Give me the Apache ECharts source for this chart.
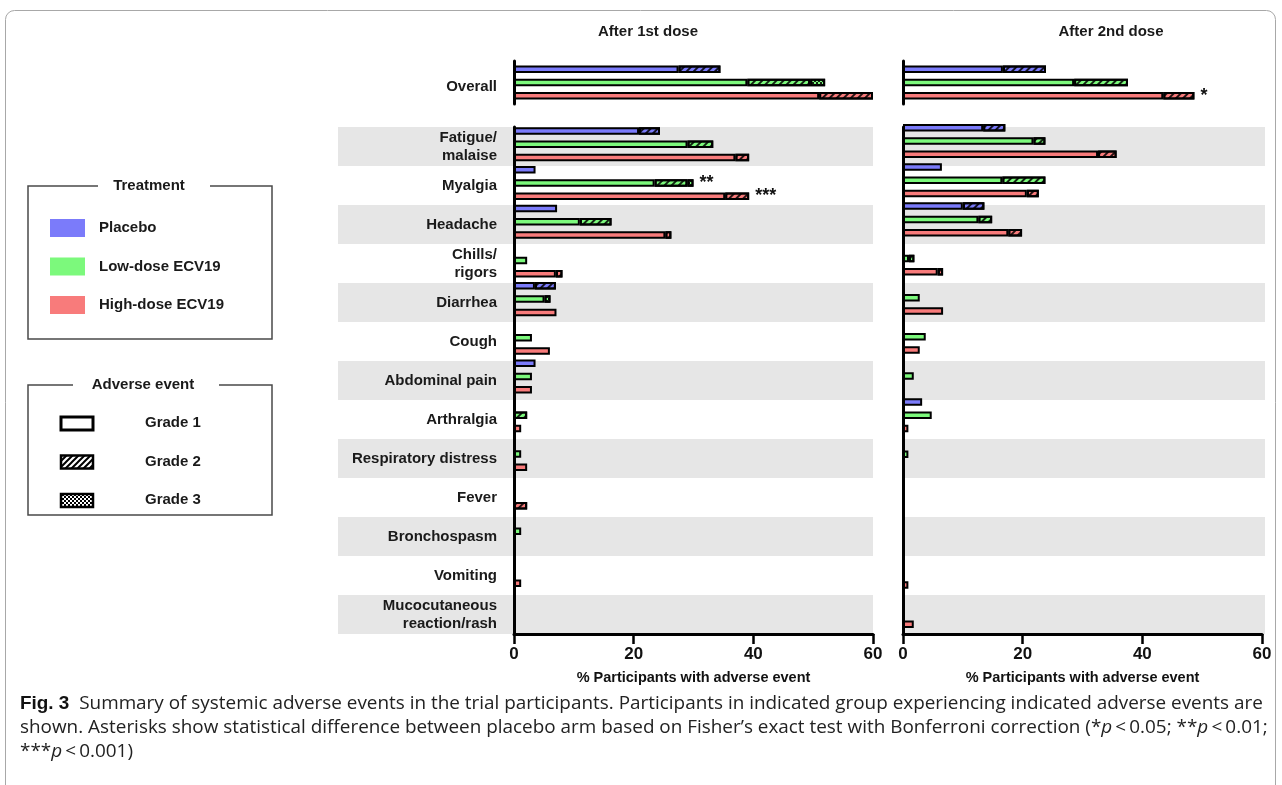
<!DOCTYPE html>
<html>
<head>
<meta charset="utf-8">
<script src="https://cdn.jsdelivr.net/npm/echarts@6/dist/echarts.min.js"></script>
<style>
  html, body { margin: 0; padding: 0; background: #fff; }
  #chart { width: 1282px; height: 785px; }
</style>
</head>
<body>
<div id="chart"></div>
<script>
// ---- Data: % participants with each systemic adverse event ----
const events = ['Fatigue/\nmalaise', 'Myalgia', 'Headache', 'Chills/\nrigors', 'Diarrhea', 'Cough',
  'Abdominal pain', 'Arthralgia', 'Respiratory distress', 'Fever', 'Bronchospasm', 'Vomiting',
  'Mucocutaneous\nreaction/rash'];
const overallCategory = ['Overall'];
const panelTitles = ['After 1st dose', 'After 2nd dose'];
const treatments = ['Placebo', 'Low-dose ECV19', 'High-dose ECV19'];
const grades = ['Grade 1', 'Grade 2', 'Grade 3'];
const xTickValues = [0, 20, 40, 60];

// Overall, per arm: [grade 1, grade 2, grade 3]
const d1OverallPlacebo = [27.5, 7.0, 0];
const d1OverallLow = [39.0, 10.5, 2.5];
const d1OverallHigh = [51.0, 9.0, 0];
const d2OverallPlacebo = [16.7, 7.2, 0];
const d2OverallLow = [28.6, 9.0, 0];
const d2OverallHigh = [43.5, 5.2, 0];
const d2OverallStars = ['', '', '*'];

// After 1st dose, per event
const d1PlaceboG1 = [20.9, 3.6, 7.2, 0, 3.5, 0, 3.6, 0, 0, 0, 0, 0, 0];
const d1PlaceboG2 = [3.5, 0, 0, 0, 3.5, 0, 0, 0, 0, 0, 0, 0, 0];
const d1PlaceboG3 = [0, 0, 0, 0, 0, 0, 0, 0, 0, 0, 0, 0, 0];
const d1LowG1 = [29.0, 23.5, 11.0, 2.2, 5.1, 3.0, 3.0, 0, 1.2, 0, 1.2, 0, 0];
const d1LowG2 = [4.3, 5.5, 5.3, 0, 0, 0, 0, 2.2, 0, 0, 0, 0, 0];
const d1LowG3 = [0, 1.0, 0, 0, 1.0, 0, 0, 0, 0, 0, 0, 0, 0];
const d1HighG1 = [37.0, 35.3, 25.3, 7.0, 7.1, 6.0, 3.0, 1.2, 2.2, 0, 0, 1.2, 0];
const d1HighG2 = [2.3, 4.0, 1.0, 1.1, 0, 0, 0, 0, 0, 2.2, 0, 0, 0];
const d1HighG3 = [0, 0, 0, 0, 0, 0, 0, 0, 0, 0, 0, 0, 0];
const d1LowStars = ['', '**', '', '', '', '', '', '', '', '', '', '', ''];
const d1HighStars = ['', '***', '', '', '', '', '', '', '', '', '', '', ''];

// After 2nd dose, per event
const d2PlaceboG1 = [13.4, 6.5, 10.0, 0, 0, 0, 0, 3.2, 0, 0, 0, 0, 0];
const d2PlaceboG2 = [3.7, 0, 3.6, 0, 0, 0, 0, 0, 0, 0, 0, 0, 0];
const d2PlaceboG3 = [0, 0, 0, 0, 0, 0, 0, 0, 0, 0, 0, 0, 0];
const d2LowG1 = [21.8, 16.6, 12.6, 1.0, 2.8, 3.8, 1.8, 4.8, 0.9, 0, 0, 0, 0];
const d2LowG2 = [2.0, 7.2, 2.3, 0.9, 0, 0, 0, 0, 0, 0, 0, 0, 0];
const d2LowG3 = [0, 0, 0, 0, 0, 0, 0, 0, 0, 0, 0, 0, 0];
const d2HighG1 = [32.6, 20.7, 17.6, 5.8, 6.7, 2.8, 0, 0.9, 0, 0, 0, 0.9, 1.8];
const d2HighG2 = [3.1, 2.0, 2.3, 0.9, 0, 0, 0, 0, 0, 0, 0, 0, 0];
const d2HighG3 = [0, 0, 0, 0, 0, 0, 0, 0, 0, 0, 0, 0, 0];

// ---- Styling ----
const FONT = 'Liberation Sans, Arial, sans-serif';
const CAPTION_FONT = 'Open Sans, Liberation Sans, sans-serif';
const armColors = ['#7b7bfa', '#7cf97c', '#f87b7b'];
const hatchDecal = {
  symbol: 'rect', symbolSize: 1, color: 'rgba(0,0,0,0.85)',
  dashArrayX: [1, 0], dashArrayY: [2, 3], rotation: -Math.PI / 4
};
const checkDecal = {
  symbol: 'rect', symbolSize: 1, color: 'rgba(0,0,0,0.85)',
  dashArrayX: [[2, 2], [0, 2, 2, 0]], dashArrayY: [2, 0]
};
const gradeDecals = [null, hatchDecal, checkDecal];

const chart = echarts.init(document.getElementById('chart'), null, { renderer: 'canvas' });

// One stacked bar per arm: grade 1, 2, 3 segments in sequence
function armSeries(axisIndex, stackKey, color, gradeArrays, stars) {
  return gradeArrays.map((vals, g) => {
    const itemStyle = { color: color, borderColor: '#000', borderWidth: 2 };
    if (gradeDecals[g]) itemStyle.decal = gradeDecals[g];
    return {
      type: 'bar',
      name: grades[g],
      xAxisIndex: axisIndex, yAxisIndex: axisIndex,
      stack: stackKey,
      barWidth: 7.5, barGap: '77%',
      silent: true,
      itemStyle: itemStyle,
      label: { show: false, position: 'right', distance: 6, fontSize: 18, fontWeight: 'bold',
        fontFamily: FONT, color: '#111' },
      data: vals.map((v, i) => {
        if (!v) return '-';
        const isLast = gradeArrays.slice(g + 1).every(a => !a[i]);
        const star = stars ? stars[i] : '';
        if (isLast && star) return { value: v, label: { show: true, formatter: star } };
        return v;
      })
    };
  });
}
function overallArm(axisIndex, key, color, triple, star) {
  return armSeries(axisIndex, key, color, triple.map(v => [v]), star ? [star] : null);
}

const gridBase = { outerBoundsMode: 'none', containLabel: false, show: false };
const grids = [
  { left: 338, width: 535, top: 127, height: 507 },   // 0 shading, dose 1
  { left: 514, width: 359, top: 127, height: 507 },   // 1 axes, dose 1
  { left: 514, width: 359, top: 125, height: 503 },   // 2 bars, dose 1
  { left: 514, width: 359, top: 61, height: 43 },     // 3 overall, dose 1
  { left: 903, width: 362, top: 127, height: 507 },   // 4 shading, dose 2
  { left: 903, width: 359, top: 127, height: 507 },   // 5 axes, dose 2
  { left: 903, width: 359, top: 121.5, height: 509 }, // 6 bars, dose 2
  { left: 903, width: 359, top: 61, height: 43 }      // 7 overall, dose 2
].map(g => Object.assign({}, gridBase, g));

const xMin = xTickValues[0], xMax = xTickValues[xTickValues.length - 1];
const xStep = xTickValues[1] - xTickValues[0];
function hiddenX(i) {
  return { type: 'value', gridIndex: i, min: xMin, max: xMax, show: false };
}
function shownX(i) {
  return {
    type: 'value', gridIndex: i, min: xMin, max: xMax, interval: xStep,
    axisLine: { show: true, lineStyle: { color: '#000', width: 3 } },
    axisTick: { show: true, length: 10, lineStyle: { color: '#000', width: 2.5 } },
    axisLabel: { fontSize: 17, fontWeight: 'bold', color: '#111', margin: 12, fontFamily: FONT },
    splitLine: { show: false },
    name: '% Participants with adverse event', nameLocation: 'middle', nameGap: 36,
    nameTextStyle: { fontSize: 14.5, fontWeight: 'bold', color: '#111', fontFamily: FONT }
  };
}
const catLabel = { fontSize: 15, fontWeight: 'bold', color: '#1a1a1a', margin: 17, lineHeight: 18,
  fontFamily: FONT };
function shadeY(i) {
  return { type: 'category', gridIndex: i, data: events, inverse: true,
    axisLine: { show: false }, axisTick: { show: false }, axisLabel: { show: false },
    splitArea: { show: true, areaStyle: { color: ['#e6e6e6', 'rgba(255,255,255,0)'] } } };
}
function axisY(i, labels) {
  return { type: 'category', gridIndex: i, data: events, inverse: true,
    axisLine: { show: true, lineStyle: { color: '#000', width: 3 } }, axisTick: { show: false },
    axisLabel: Object.assign({ show: labels }, catLabel), splitArea: { show: false } };
}
function barY(i) {
  return { type: 'category', gridIndex: i, data: events, inverse: true, show: false };
}
function overallY(i, labels) {
  return { type: 'category', gridIndex: i, data: overallCategory, inverse: true,
    axisLine: { show: true, lineStyle: { color: '#000', width: 3 } }, axisTick: { show: false },
    axisLabel: Object.assign({}, catLabel, { show: labels, verticalAlign: 'top', lineHeight: 9 }) };
}

const xAxes = [hiddenX(0), shownX(1), hiddenX(2), hiddenX(3), hiddenX(4), shownX(5), hiddenX(6), hiddenX(7)];
const yAxes = [shadeY(0), axisY(1, true), barY(2), overallY(3, true),
  shadeY(4), axisY(5, false), barY(6), overallY(7, false)];

const series = [].concat(
  overallArm(3, 'o1p', armColors[0], d1OverallPlacebo),
  overallArm(3, 'o1l', armColors[1], d1OverallLow),
  overallArm(3, 'o1h', armColors[2], d1OverallHigh),
  armSeries(2, 'e1p', armColors[0], [d1PlaceboG1, d1PlaceboG2, d1PlaceboG3]),
  armSeries(2, 'e1l', armColors[1], [d1LowG1, d1LowG2, d1LowG3], d1LowStars),
  armSeries(2, 'e1h', armColors[2], [d1HighG1, d1HighG2, d1HighG3], d1HighStars),
  overallArm(7, 'o2p', armColors[0], d2OverallPlacebo, d2OverallStars[0]),
  overallArm(7, 'o2l', armColors[1], d2OverallLow, d2OverallStars[1]),
  overallArm(7, 'o2h', armColors[2], d2OverallHigh, d2OverallStars[2]),
  armSeries(6, 'e2p', armColors[0], [d2PlaceboG1, d2PlaceboG2, d2PlaceboG3]),
  armSeries(6, 'e2l', armColors[1], [d2LowG1, d2LowG2, d2LowG3]),
  armSeries(6, 'e2h', armColors[2], [d2HighG1, d2HighG2, d2HighG3])
);

// ---- Legend swatch patterns ----
function hatchCanvas() {
  const c = document.createElement('canvas');
  c.width = 6; c.height = 6;
  const ctx = c.getContext('2d');
  ctx.fillStyle = '#fff'; ctx.fillRect(0, 0, 6, 6);
  ctx.strokeStyle = '#000'; ctx.lineWidth = 2;
  ctx.beginPath();
  ctx.moveTo(-1, 7); ctx.lineTo(7, -1);
  ctx.moveTo(-1, 1); ctx.lineTo(1, -1);
  ctx.moveTo(5, 7); ctx.lineTo(7, 5);
  ctx.stroke();
  return c;
}
function checkCanvas() {
  const c = document.createElement('canvas');
  c.width = 4; c.height = 4;
  const ctx = c.getContext('2d');
  ctx.fillStyle = '#fff'; ctx.fillRect(0, 0, 4, 4);
  ctx.fillStyle = '#000'; ctx.fillRect(0, 0, 2, 2); ctx.fillRect(2, 2, 2, 2);
  return c;
}
const gradeFills = ['#fff', { image: hatchCanvas(), repeat: 'repeat' }, { image: checkCanvas(), repeat: 'repeat' }];

function txt(x, y, text, size, align, extra) {
  return { type: 'text', x: x, y: y, silent: true,
    style: Object.assign({ text: text, fontSize: size, fontWeight: 'bold', fontFamily: FONT, fill: '#1a1a1a',
      align: align, verticalAlign: 'middle', textAlign: align, textVerticalAlign: 'middle' }, extra || {}) };
}
function box(x1, y1, x2, y2, gapL, gapR) {
  return { type: 'polyline', silent: true,
    shape: { points: [[gapL, y1], [x1, y1], [x1, y2], [x2, y2], [x2, y1], [gapR, y1]] },
    style: { stroke: '#4a4a4a', lineWidth: 1.5, fill: null } };
}

const graphics = [
  // figure frame
  { type: 'rect', silent: true, shape: { x: 5.5, y: 10.5, width: 1270, height: 820, r: 9 },
    style: { fill: null, stroke: '#a8a8a8', lineWidth: 1 }, z: -10 },
  txt(648, 32, panelTitles[0], 15, 'center'),
  txt(1111, 32, panelTitles[1], 15, 'center'),
  // treatment legend
  box(28, 186, 272, 339, 98, 210),
  txt(149, 186, 'Treatment', 15, 'center'),
  // adverse event legend
  box(28, 385, 272, 515, 73, 219),
  txt(143, 385, 'Adverse event', 15, 'center')
];
treatments.forEach((t, i) => {
  const cy = 228 + i * 38.5;
  graphics.push({ type: 'rect', silent: true, shape: { x: 50, y: cy - 9, width: 35, height: 18 },
    style: { fill: armColors[i] } });
  graphics.push(txt(99, cy, t, 15, 'left'));
});
grades.forEach((g, i) => {
  const cy = 423 + i * 38.5;
  graphics.push({ type: 'rect', silent: true, shape: { x: 61, y: cy - 6, width: 32, height: 13 },
    style: { fill: gradeFills[i], stroke: '#000', lineWidth: i === 0 ? 3 : 2.5 } });
  graphics.push(txt(145, cy, g, 15, 'left'));
});

// caption, stretched slightly to span the figure width
const thin = '\u2009';
graphics.push({
  type: 'text', x: 20, y: 692, scaleX: 1.05, originX: 0, silent: true,
  style: {
    text: '{b|Fig. 3}  Summary of systemic adverse events in the trial participants. Participants in indicated group experiencing indicated adverse events are\n' +
      'shown. Asterisks show statistical difference between placebo arm based on Fisher\u2019s exact test with Bonferroni correction (*{i|p}' + thin + '<' + thin + '0.05; **{i|p}' + thin + '<' + thin + '0.01;\n' +
      '***{i|p}' + thin + '<' + thin + '0.001)',
    fontSize: 18, fontFamily: CAPTION_FONT, fill: '#222',
    lineHeight: 24, align: 'left', verticalAlign: 'top', textAlign: 'left', textVerticalAlign: 'top',
    rich: {
      b: { fontSize: 18, fontWeight: 'bold', fontFamily: FONT, fill: '#111', lineHeight: 24 },
      i: { fontSize: 18, fontStyle: 'italic', fontFamily: CAPTION_FONT, fill: '#222', lineHeight: 24 }
    }
  }
});

chart.setOption({
  animation: false,
  backgroundColor: '#fff',
  textStyle: { fontFamily: FONT },
  grid: grids,
  xAxis: xAxes,
  yAxis: yAxes,
  series: series,
  graphic: graphics
});
</script>
</body>
</html>
